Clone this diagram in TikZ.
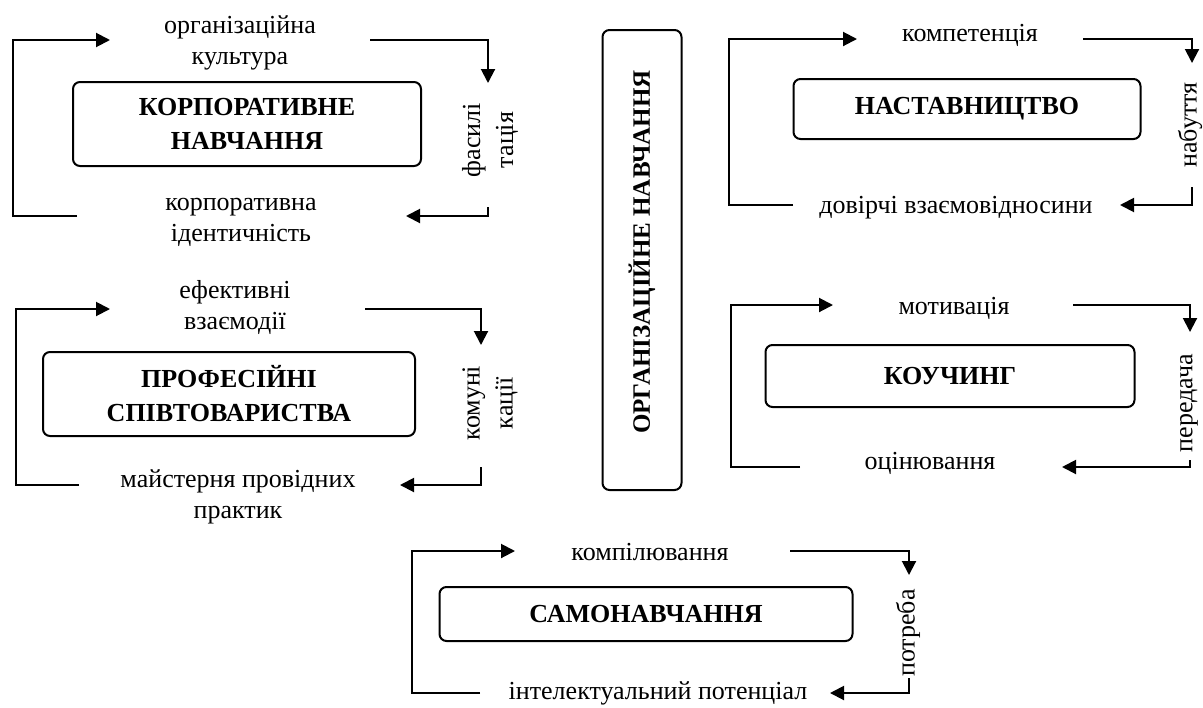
\documentclass[tikz,border=0pt]{standalone}
\usepackage{fontspec}
\setmainfont{Liberation Serif}
\usetikzlibrary{arrows.meta}
\tikzset{
  lbl/.style={font=\fontsize{13}{15.5}\selectfont, align=center, inner sep=0pt},
  vlbl/.style={font=\fontsize{13}{16.5}\selectfont, align=center, inner sep=0pt, rotate=90},
  titlebox/.style={draw, line width=1pt, rounded corners=3.5pt, align=center,
    font=\fontsize{13}{17}\selectfont\bfseries, inner sep=0pt},
  arr/.style={line width=1pt, -{Triangle[length=7pt,width=7pt]}},
}
\begin{document}
\begin{tikzpicture}[x=0.5pt,y=-0.5pt]
\useasboundingbox (0,0) rectangle (1203,707);

% ---------- central box ----------
\node[draw, line width=1pt, rounded corners=3.5pt, minimum width=39.5pt, minimum height=230pt,
      inner sep=0pt] (org) at (642,260) {};
\node[rotate=90, font=\fontsize{12.5}{17}\selectfont\bfseries, inner sep=0pt] (orgt) at (642,252) {ОРГАНІЗАЦІЙНЕ НАВЧАННЯ};

% ---------- block 1: corporate training ----------
\node[titlebox, minimum width=174pt, minimum height=42pt] (b1) at (247,124) {КОРПОРАТИВНЕ\\НАВЧАННЯ};
\node[lbl] (t1) at (240,43) {організаційна\\культура};
\node[lbl] (c1) at (241,222) {корпоративна\\ідентичність};
\node[vlbl] (f1) at (490,140) {фасилі\\тація};
\coordinate (b1a) at (77,216);
\coordinate (b1b) at (110,40);
\coordinate (b1c) at (370,40);
\coordinate (b1d) at (488,83);
\coordinate (b1e) at (488,207);
\coordinate (b1f) at (406,216);
\draw[arr] (b1a) -- (13,216) |- (b1b);
\draw[arr] (b1c) -| (b1d);
\draw[arr] (b1e) |- (b1f);

% ---------- block 2: professional communities ----------
\node[titlebox, minimum width=186pt, minimum height=42pt] (b2) at (229,394) {ПРОФЕСІЙНІ\\СПІВТОВАРИСТВА};
\node[lbl] (t2) at (235,307) {ефективні\\взаємодії};
\node[lbl] (c2) at (238,497) {майстерня провідних\\практик};
\node[vlbl] (f2) at (490,403) {комуні\\кації};
\coordinate (b2a) at (79,485);
\coordinate (b2b) at (110,309);
\coordinate (b2c) at (365,309);
\coordinate (b2d) at (481,345);
\coordinate (b2e) at (481,467);
\coordinate (b2f) at (400,485);
\draw[arr] (b2a) -- (16,485) |- (b2b);
\draw[arr] (b2c) -| (b2d);
\draw[arr] (b2e) |- (b2f);

% ---------- block 4: mentoring ----------
\node[titlebox, minimum width=173.5pt, minimum height=30pt] (b4) at (967,109) {НАСТАВНИЦТВО};
\node[lbl] (t4) at (970,35) {компетенція};
\node[lbl] (c4) at (956,208) {довірчі взаємовідносини};
\node[vlbl] (f4) at (1190,125) {набуття};
\coordinate (b4a) at (793,205);
\coordinate (b4b) at (857,39);
\coordinate (b4c) at (1083,39);
\coordinate (b4d) at (1192,63);
\coordinate (b4e) at (1192,187);
\coordinate (b4f) at (1120,205);
\draw[arr] (b4a) -- (729,205) |- (b4b);
\draw[arr] (b4c) -| (b4d);
\draw[arr] (b4e) |- (b4f);

% ---------- block 5: coaching ----------
\node[titlebox, minimum width=184.5pt, minimum height=31pt] (b5) at (950,376) {КОУЧИНГ};
\node[lbl] (t5) at (954,308) {мотивація};
\node[lbl] (c5) at (930,463) {оцінювання};
\node[vlbl] (f5) at (1189,403) {передача};
\coordinate (b5a) at (800,467);
\coordinate (b5b) at (833,305);
\coordinate (b5c) at (1073,305);
\coordinate (b5d) at (1190,332);
\coordinate (b5e) at (1190,460);
\coordinate (b5f) at (1062,467);
\draw[arr] (b5a) -- (731,467) |- (b5b);
\draw[arr] (b5c) -| (b5d);
\draw[arr] (b5e) |- (b5f);

% ---------- block 6: self-learning ----------
\node[titlebox, minimum width=206.5pt, minimum height=27pt] (b6) at (646,614) {САМОНАВЧАННЯ};
\node[lbl] (t6) at (650,552) {компілювання};
\node[lbl] (c6) at (658,693) {інтелектуальний потенціал};
\node[vlbl] (f6) at (908,633) {потреба};
\coordinate (b6a) at (480,693);
\coordinate (b6b) at (515,551);
\coordinate (b6c) at (790,551);
\coordinate (b6d) at (909,575);
\coordinate (b6e) at (909,678);
\coordinate (b6f) at (830,693);
\draw[arr] (b6a) -- (412,693) |- (b6b);
\draw[arr] (b6c) -| (b6d);
\draw[arr] (b6e) |- (b6f);
\end{tikzpicture}
\end{document}
